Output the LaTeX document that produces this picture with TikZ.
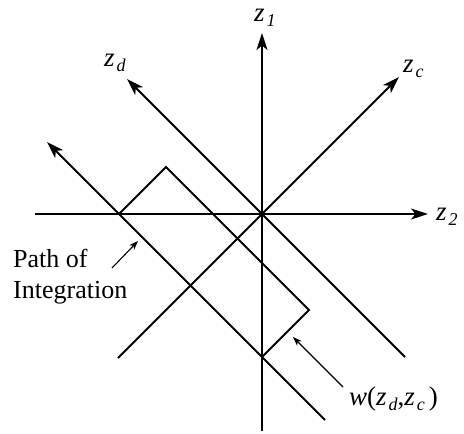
\documentclass[tikz,border=0pt]{standalone}
\usepackage{fontspec}
\setmainfont{Liberation Serif}
\usetikzlibrary{arrows.meta}
\newcommand\zsb[2]{\textit{#1}\kern2pt\raisebox{-5pt}{\fontsize{18}{18}\selectfont\itshape #2}}
\begin{document}
\begin{tikzpicture}[x=1pt,y=-1pt,
  axis/.style={line width=2pt, -{Stealth[length=17pt,width=11pt,inset=4.5pt]}},
  plain/.style={line width=2pt},
  pointer/.style={line width=1.1pt, -{Stealth[length=9pt,width=6.5pt,inset=2.5pt]}},
  lab/.style={inner sep=0pt, anchor=base west, font=\fontsize{27}{27}\selectfont},
  txt/.style={inner sep=0pt, anchor=base west, font=\fontsize{26}{30}\selectfont}]
\useasboundingbox (0,0) rectangle (464,434);
% axis end points
\coordinate (O) at (262,214);
\coordinate (z1b) at (262,431);
\coordinate (z1t) at (262,33);
\coordinate (z2l) at (35,214);
\coordinate (z2r) at (428,214);
\coordinate (zcb) at (118,358);
\coordinate (zct) at (399,77);
\coordinate (zdt) at (127,79);
\coordinate (zdb) at (405,357);
% path of integration
\coordinate (pt) at (47,142);
\coordinate (pb) at (325,420);
% window w
\coordinate (r1) at (119,214);
\coordinate (r2) at (166,167);
\coordinate (r3) at (309,310);
\coordinate (r4) at (262,357);
% pointer ends
\coordinate (pa1) at (112,268);
\coordinate (pa2) at (138,241);
\coordinate (wa1) at (343,387);
\coordinate (wa2) at (293,337);
% labels
\node[lab] (l1) at (254,21) {\zsb{z}{1}};
\node[lab] (l2) at (436,220) {\zsb{z}{2}};
\node[lab] (lc) at (403,72) {\zsb{z}{c}};
\node[lab] (ld) at (104,66) {\zsb{z}{d}};
\node[lab] (lw) at (349,405) {\textit{w}(\zsb{z}{d},\zsb{z}{c}\kern4pt)};
\node[txt] (p1) at (13,267) {Path of};
\node[txt] (p2) at (13,298) {Integration};
% axes
\draw[axis] (z1b) -- (z1t);
\draw[axis] (z2l) -- (z2r);
\draw[axis] (zcb) -- (zct);
\draw[axis] (zdb) -- (zdt);
\draw[axis] (pb) -- (pt);
% window
\draw[plain, line join=miter] (r1) -- (r2) -- (r3) -- (r4);
% pointers
\draw[pointer] (pa1) -- (pa2);
\draw[pointer] (wa1) -- (wa2);
\end{tikzpicture}
\end{document}
